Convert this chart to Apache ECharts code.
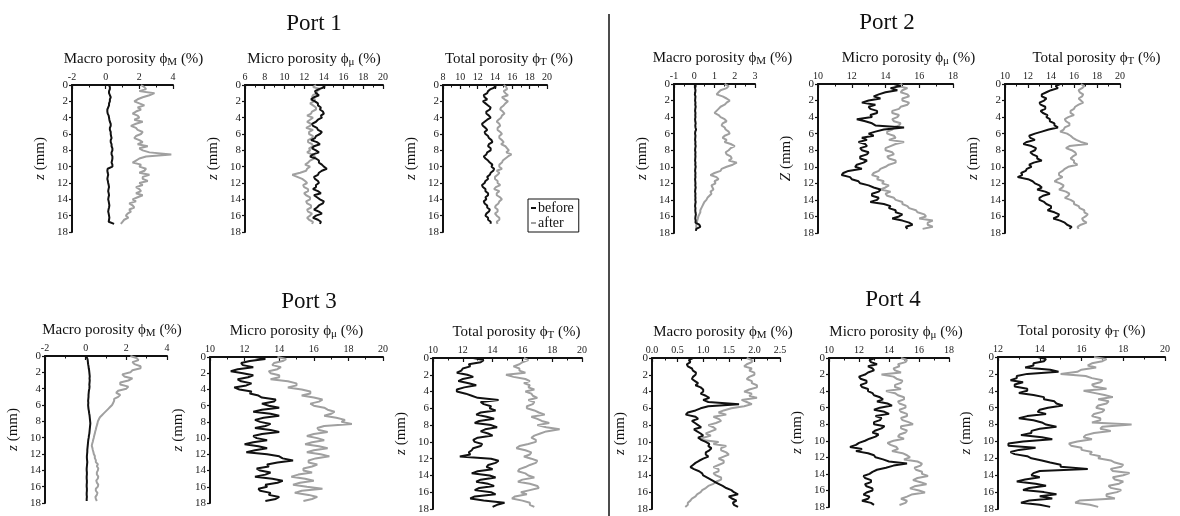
<!DOCTYPE html>
<html><head><meta charset="utf-8">
<script src="https://cdn.jsdelivr.net/npm/echarts@6/dist/echarts.min.js"></script>
<style>html,body{margin:0;padding:0;background:#fff}#c{width:1180px;height:516px}</style>
</head><body><div id="c"></div>
<script>
// depth (mm), 0.25 mm steps
const depth = [0,0.25,0.5,0.75,1,1.25,1.5,1.75,2,2.25,2.5,2.75,3,3.25,3.5,3.75,4,4.25,4.5,4.75,5,5.25,5.5,5.75,6,6.25,6.5,6.75,7,7.25,7.5,7.75,8,8.25,8.5,8.75,9,9.25,9.5,9.75,10,10.25,10.5,10.75,11,11.25,11.5,11.75,12,12.25,12.5,12.75,13,13.25,13.5,13.75,14,14.25,14.5,14.75,15,15.25,15.5,15.75,16,16.25,16.5,16.75,17,17.25,17.5,17.75];
const seriesNames = ['before','after'];
const portTitles = ['Port 1','Port 2','Port 3','Port 4'];

// Port 1
const p1MacroBefore = [0.2,0.25,0.25,0.2, 0.2,0.25,0.3,0.25, 0.25,0.2,0.2,0.15, 0.1,0.1,0.12,0.18, 0.2,0.22,0.25,0.3, 0.3,0.25,0.25,0.3, 0.3,0.32,0.35,0.3, 0.3,0.35,0.35,0.4, 0.4,0.35,0.35,0.4, 0.4,0.38,0.35,0.4, 0.4,0.12,0.1,0.12, 0.15,0.12,0.1,0.13, 0.15,0.18,0.2,0.17, 0.15,0.18,0.2,0.17, 0.15,0.18,0.2,0.22, 0.2,0.17,0.15,0.18, 0.2,0.22,0.2,0.18, 0.5];
const p1MacroAfter = [2.1,2.3,2.4,2.0, 2.9,2.6,2.2,1.9, 1.7,2.0,2.3,1.9, 2.1,1.8,1.6,1.9, 2.0,1.7,2.2,1.8, 1.5,1.8,1.9,2.2, 2.1,1.8,1.7,2.0, 2.2,1.9,2.5,2.0, 2.2,2.6,3.9,2.4, 2.0,1.8,1.6,2.1, 2.0,2.4,2.3,2.0, 2.6,2.2,2.2,2.5, 2.0,2.2,1.8,2.0, 2.1,1.8,2.2,1.9, 1.6,1.8,1.4,1.6, 1.7,1.4,1.5,1.3, 1.2,1.35,1.1,1.0, 0.9];
const p1MicroBefore = [13.8,14.1,13.5,13.1, 13.2,13.5,13.0,12.7, 13.1,13.4,13.4,13.7, 13.6,13.9,14.0,13.7, 13.8,13.4,13.2,12.8, 12.9,13.3,13.4,13.8, 13.6,13.2,13.1,12.7, 13.3,13.6,13.0,12.8, 13.2,13.5,12.9,12.6, 13.2,13.5,13.5,13.8, 14.0,14.3,13.8,13.5, 13.4,13.0,13.1,13.4, 13.5,13.2,13.2,12.9, 13.4,13.7,13.0,13.3, 13.6,14.0,13.9,13.5, 13.3,13.0,13.5,13.8, 13.2,12.9,13.4,13.7, 13.6];
const p1MicroAfter = [13.2,12.9,13.6,13.3, 13.3,12.9,12.8,13.1, 13.0,12.6,12.9,13.2, 13.2,12.8,12.7,12.3, 12.9,12.6,12.3,12.7, 12.6,12.2,12.9,12.5, 12.5,12.9,12.8,12.4, 12.4,12.8,12.9,12.5, 12.6,12.3,12.8,13.1, 13.0,12.6,12.4,12.1, 12.6,12.3,12.2,11.6, 10.8,11.3,11.8,12.1, 12.3,11.9,12.0,12.4, 12.4,12.0,12.2,12.6, 12.6,12.2,12.3,12.7, 12.7,12.3,12.4,12.8, 12.6,12.3,12.5,12.9, 12.8];
const p1TotalBefore = [13.8,14.1,13.5,13.2, 13.1,12.7,12.8,13.1, 12.6,12.9,13.2,13.5, 13.4,13.0,13.0,13.3, 13.5,13.1,12.8,12.5, 12.6,12.9,13.1,12.8, 12.9,13.2,13.3,13.6, 13.7,13.3,13.2,13.5, 13.5,13.1,13.0,12.7, 12.9,13.2,13.4,13.7, 13.6,13.9,13.8,13.5, 13.4,13.1,13.2,12.9, 12.8,12.5,12.6,12.9, 12.9,13.2,13.2,12.9, 13.0,12.7,12.8,13.1, 13.1,13.4,13.3,13.0, 12.9,13.2,13.2,13.5, 13.5];
const p1TotalAfter = [15.0,15.3,15.4,15.0, 15.2,15.5,14.8,15.1, 15.5,15.2,15.0,14.7, 14.6,14.9,15.1,14.8, 14.7,14.4,14.2,14.5, 14.6,14.3,14.3,14.6, 14.8,14.5,14.5,14.8, 15.0,14.7,15.2,15.4, 15.6,15.3,15.9,15.5, 15.2,14.9,14.8,14.5, 14.5,14.8,14.2,14.5, 14.3,14.0,14.0,14.3, 14.3,14.6,14.1,13.9, 14.5,14.2,14.2,14.6, 14.8,14.5,14.4,14.1, 14.0,14.3,14.3,14.0, 14.2,14.5,14.5,14.2, 14.3];
// Port 2
const p2MacroBefore = [0.05,0.07,0.04,0.06, 0.05,0.03,0.06,0.05, 0.04,0.06,0.05,0.07, 0.05,0.04,0.06,0.05, 0.06,0.04,0.05,0.07, 0.05,0.06,0.09,0.05, 0.04,0.06,0.05,0.04, 0.06,0.05,0.07,0.05, 0.04,0.06,0.05,0.06, 0.05,0.04,0.06,0.05, 0.07,0.05,0.04,0.06, 0.05,0.06,0.04,0.05, 0.06,0.05,0.07,0.05, 0.04,0.06,0.05,0.06, 0.05,0.07,0.05,0.04, 0.06,0.05,0.06,0.08, 0.06,0.05,0.07,0.06, 0.25,0.3,0.1,0.08];
const p2MacroAfter = [1.5,1.7,1.6,1.3, 1.2,1.1,1.4,1.6, 1.75,1.6,1.5,1.3, 1.2,1.1,1.0,1.2, 1.3,1.5,1.6,1.4, 1.35,1.5,1.55,1.7, 1.75,1.5,1.4,1.6, 1.5,1.8,2.0,1.8, 1.7,1.55,1.6,1.8, 1.85,1.7,2.1,1.9, 1.6,1.35,1.3,1.0, 0.8,1.1,1.2,1.0, 1.05,0.85,0.9,0.95, 0.8,0.85,0.75,0.65, 0.6,0.5,0.45,0.4, 0.35,0.3,0.3,0.25, 0.2,0.18,0.15,0.12, 0.1,0.1,0.1];
const p2MicroBefore = [14.5,14.9,14.3,14.7, 14.0,13.6,13.3,13.7, 13.0,12.6,13.4,13.0, 13.1,13.5,13.5,13.1, 13.2,12.3,12.8,13.2, 13.4,15.1,13.9,13.4, 13.0,13.3,12.6,12.9, 12.4,12.8,12.9,12.5, 12.6,13.0,12.9,12.5, 12.5,12.9,12.7,12.3, 12.2,12.6,11.8,11.5, 11.4,11.9,12.0,12.4, 12.5,13.0,13.3,13.7, 13.6,13.2,13.2,13.6, 13.5,13.1,13.9,14.3, 14.2,14.6,14.6,15.0, 14.8,14.4,15.0,15.4, 15.6,15.2,15.3];
const p2MicroAfter = [15.0,14.7,15.3,15.0, 14.9,15.3,15.4,15.0, 15.0,15.4,15.3,14.9, 14.8,14.4,14.4,14.8, 14.7,14.4,14.5,14.9, 14.8,14.5,14.4,14.1, 14.1,14.5,14.6,14.2, 15.1,14.6,14.3,14.0, 14.0,14.4,14.5,14.1, 14.2,14.6,14.6,14.2, 14.0,13.7,13.6,13.3, 13.2,13.6,13.5,13.9, 13.8,14.2,14.0,13.7, 14.3,14.0,14.1,14.5, 14.6,15.0,15.0,15.3, 15.4,15.8,15.9,16.3, 16.4,16.0,16.8,16.5, 16.5,16.8,16.2];
const p2TotalBefore = [14.8,14.4,14.6,14.0, 13.6,13.2,13.2,13.6, 13.4,13.0,13.1,13.5, 13.5,13.1,13.3,13.7, 13.6,13.9,13.9,14.3, 14.3,14.6,13.8,13.2, 12.6,12.1,12.2,12.6, 11.9,11.6,12.3,12.7, 12.6,12.2,12.4,12.8, 12.8,13.2,12.5,12.1, 12.3,11.9,11.8,11.4, 11.5,11.1,12.0,12.4, 12.6,13.0,13.2,12.8, 13.5,13.9,13.3,13.0, 13.0,13.4,13.6,14.0, 14.0,13.7,14.3,14.7, 14.6,14.2,14.8,15.2, 15.4,15.8,15.6];
const p2TotalAfter = [16.6,16.9,16.7,16.4, 16.5,16.8,16.7,16.4, 16.6,16.8,16.4,16.1, 16.0,15.7,15.7,16.0, 15.5,15.2,15.3,15.6, 15.6,15.2,15.1,14.8, 15.4,15.7,15.9,16.2, 16.6,17.2,15.6,15.3, 15.8,16.1,16.2,15.9, 15.7,16.0,16.0,16.3, 15.5,15.2,15.0,14.7, 14.7,15.0,14.6,14.3, 14.8,15.1,15.0,14.7, 15.3,15.6,15.5,15.2, 15.7,16.0,16.0,16.4, 16.5,16.9,16.9,17.2, 17.0,16.7,16.8,17.1, 16.6,16.3,16.4];
// Port 3
const p3MacroBefore = [0.05,0.07,0.1,0.11, 0.12,0.14,0.15,0.17, 0.18,0.19,0.2,0.19, 0.2,0.19,0.18,0.19, 0.18,0.16,0.15,0.14, 0.14,0.13,0.12,0.13, 0.12,0.13,0.14,0.16, 0.17,0.19,0.2,0.21, 0.22,0.23,0.22,0.21, 0.2,0.19,0.18,0.16, 0.15,0.13,0.12,0.11, 0.1,0.09,0.08,0.08, 0.07,0.06,0.06,0.07, 0.08,0.07,0.06,0.05, 0.05,0.06,0.06,0.05, 0.05,0.06,0.06,0.05, 0.05,0.06,0.06,0.05, 0.05,0.06,0.05,0.05];
const p3MacroAfter = [2.2,2.5,2.6,2.3, 2.4,2.7,2.7,2.3, 2.2,1.8,1.9,2.3, 2.1,1.7,1.7,2.1, 2.0,1.6,1.5,1.7, 1.6,1.4,1.4,1.35, 1.3,1.2,1.1,1.0, 0.9,0.8,0.7,0.65, 0.6,0.58,0.55,0.52, 0.5,0.47,0.45,0.42, 0.4,0.37,0.35,0.32, 0.3,0.33,0.35,0.38, 0.4,0.45,0.45,0.5, 0.5,0.6,0.55,0.62, 0.6,0.55,0.55,0.62, 0.6,0.52,0.55,0.62, 0.6,0.5,0.5,0.58, 0.55,0.48,0.5,0.55];
const p3MicroBefore = [12.6,13.2,12.3,11.8, 11.9,12.5,11.6,11.2, 11.9,12.5,12.2,11.6, 11.8,12.4,12.1,11.4, 11.7,12.4,12.3,12.8, 13.0,13.8,13.7,13.0, 13.4,14.0,13.0,12.5, 13.5,14.0,13.1,12.6, 12.9,13.5,13.2,12.6, 13.5,14.0,13.0,12.5, 12.7,13.3,12.5,12.0, 12.8,13.3,12.6,12.1, 13.3,14.0,14.2,14.8, 13.9,13.3,13.4,12.7, 12.9,13.5,13.2,12.6, 13.6,14.2,13.9,13.2, 13.3,12.8,12.9,13.5, 13.4,14.0,13.8,13.2];
const p3MicroAfter = [13.9,14.4,14.2,13.7, 13.6,14.1,13.9,13.4, 13.5,14.0,14.0,13.5, 14.5,15.0,15.0,14.5, 15.3,15.8,15.8,15.3, 16.0,16.5,16.3,15.8, 16.0,16.6,16.8,17.2, 17.0,16.6,17.3,17.8, 17.6,18.2,16.6,16.2, 16.3,16.8,16.0,15.6, 16.2,16.6,15.9,15.5, 16.3,16.8,16.0,15.6, 16.4,16.9,16.1,15.7, 15.7,16.2,15.9,15.4, 15.4,15.9,15.1,14.7, 15.5,16.0,15.2,14.8, 15.6,16.5,15.3,14.9, 15.7,16.2,15.9,15.4];
const p3TotalBefore = [12.7,13.4,13.2,12.4, 12.5,12.0,11.9,11.6, 12.3,12.7,12.0,11.7, 12.4,12.9,12.1,11.6, 11.6,12.2,12.6,13.0, 14.4,13.2,13.4,13.9, 13.8,14.2,13.2,12.9, 13.6,14.1,13.1,12.8, 13.9,14.3,13.5,13.2, 13.7,14.0,13.0,12.7, 12.8,13.3,13.2,12.7, 12.6,12.4,12.5,11.8, 13.9,14.4,14.2,13.7, 13.6,14.0,13.0,12.6, 13.8,14.2,13.2,12.9, 13.7,14.1,13.1,12.8, 13.9,14.2,12.8,12.5, 13.4,14.8,14.3,14.0];
const p3TotalAfter = [16.1,16.4,16.0,15.8, 15.4,15.8,15.8,16.2, 14.9,15.4,16.2,16.5, 16.1,16.5,16.4,16.8, 16.2,16.6,16.7,17.0, 16.4,16.8,16.7,16.3, 16.3,16.8,17.1,17.5, 16.6,17.0,17.3,17.8, 17.0,17.6,18.5,17.6, 17.2,16.8,16.6,16.9, 16.9,16.4,15.8,15.6, 16.2,16.6,16.5,16.1, 16.6,17.0,16.9,16.5, 16.2,15.8,15.7,16.2, 16.4,16.8,16.0,15.7, 16.5,17.0,17.1,16.5, 15.9,16.3,15.5,15.3, 16.0,16.5,16.5,16.8];
// Port 4
const p4MacroBefore = [0.8,0.72,0.75,0.68, 0.7,0.78,0.8,0.86, 0.85,0.8,0.78,0.84, 0.9,0.85,0.95,1.0, 1.0,0.95,1.05,1.12, 1.0,1.1,1.7,1.1, 0.95,0.85,0.7,0.66, 0.85,0.9,0.78,0.84, 0.9,0.96,0.82,0.88, 0.95,1.0,0.9,0.96, 1.05,1.12,1.1,1.16, 1.12,1.05,1.05,1.1, 1.0,0.92,0.85,0.8, 0.75,0.82,0.92,0.98, 1.0,1.08,1.15,1.22, 1.3,1.38,1.45,1.55, 1.6,1.68,1.5,1.56, 1.65,1.58,1.6,1.68];
const p4MacroAfter = [1.85,1.95,1.95,1.85, 1.8,1.95,1.9,2.0, 2.0,1.9,1.85,1.95, 1.95,2.05,2.05,1.9, 1.8,1.95,1.9,2.05, 1.75,1.85,1.95,1.8, 1.55,1.4,1.3,1.45, 1.2,1.3,1.35,1.25, 1.1,1.2,1.25,1.15, 1.05,1.15,1.0,0.95, 1.3,1.2,1.45,1.35, 1.35,1.45,1.5,1.4, 1.3,1.4,1.4,1.3, 1.2,1.3,1.3,1.2, 1.25,1.35,1.35,1.25, 1.2,1.1,1.05,0.98, 0.95,0.88,0.85,0.78, 0.75,0.7,0.7,0.65];
const p4MicroBefore = [13.1,12.7,12.8,13.2, 12.6,12.9,13.0,12.6, 12.4,12.0,12.1,12.5, 12.5,12.1,12.2,12.6, 12.6,12.9,13.0,13.4, 13.6,13.2,13.9,14.2, 13.4,13.0,13.7,14.0, 13.1,13.5,13.4,13.0, 13.0,13.7,13.5,13.1, 12.9,13.3,13.1,12.7, 12.4,12.0,11.8,11.4, 12.2,11.8,12.6,13.0, 13.1,13.6,14.0,15.2, 14.3,13.8,13.2,12.9, 12.7,12.3,12.4,12.8, 12.8,12.4,12.5,12.9, 12.9,12.5,12.3,12.7, 12.6,12.2,12.8,13.0];
const p4MicroAfter = [14.8,15.2,15.1,14.6, 14.7,14.3,14.4,14.8, 13.5,14.3,14.5,14.9, 14.8,14.4,14.4,14.8, 13.8,14.4,14.6,15.0, 15.0,14.6,14.7,15.1, 15.1,14.7,14.8,15.2, 15.2,14.8,14.9,15.3, 15.6,14.8,14.8,15.2, 15.1,14.7,14.6,15.0, 14.3,13.9,14.1,14.5, 14.6,14.2,14.9,15.2, 15.4,15.0,15.9,16.2, 16.1,15.7,15.8,16.2, 16.2,16.6,15.9,15.6, 16.1,16.5,15.7,15.4, 16.0,16.4,15.5,15.2, 14.8,15.2,15.1,14.7];
const p4TotalBefore = [13.9,14.3,14.2,13.7, 13.7,13.3,14.5,14.9, 13.4,12.9,12.9,12.6, 13.2,12.8,12.8,13.4, 13.4,13.0,13.7,14.2, 14.2,14.7,14.8,15.1, 14.4,14.0,13.9,14.3, 13.4,13.0,13.7,14.1, 14.3,14.8,14.0,13.6, 13.6,13.1,14.1,14.6, 13.2,12.5,12.5,13.8, 13.0,12.6,12.8,13.4, 13.6,14.1,14.5,15.0, 15.0,16.3,14.0,13.7, 13.6,14.0,13.3,12.9, 13.8,14.3,13.5,13.2, 14.2,14.8,14.0,14.6, 13.5,13.1,14.0,14.5];
const p4TotalAfter = [16.6,17.2,17.0,16.5, 16.3,16.7,16.0,15.8, 15.0,16.2,16.5,17.0, 16.9,16.5,16.6,17.2, 16.1,16.6,17.1,17.5, 16.8,17.3,17.2,16.8, 16.7,17.1,17.0,16.6, 16.5,16.9,16.9,16.5, 18.4,17.0,16.9,17.4, 16.6,16.2,16.1,16.5, 15.8,15.4,15.5,16.0, 16.0,16.5,16.4,16.9, 16.8,17.4,17.6,18.0, 17.9,17.4,17.5,18.3, 18.0,17.5,17.6,18.0, 17.8,17.3,17.4,17.9, 17.7,17.2,17.2,17.6, 15.9,15.7,16.4,16.8];

// axis ranges: [min, max, interval]
const xRanges = [[-2,4,2],[6,20,2],[8,20,2],[-1,3,1],[10,18,2],[10,20,2],[-2,4,2],[10,20,2],[10,20,2],[0,2.5,0.5],[10,18,2],[12,20,2]];
const panelKinds = ['M','μ','T','M','μ','T','M','μ','T','M','μ','T'];
const panelLabels = {M:'Macro porosity ϕ', 'μ':'Micro porosity ϕ', T:'Total porosity ϕ'};
const zNames = ['z','z','z','z','Z','z','z','z','z','z','z','z'];
const panelData = [
  [p1MacroBefore,p1MacroAfter],[p1MicroBefore,p1MicroAfter],[p1TotalBefore,p1TotalAfter],
  [p2MacroBefore,p2MacroAfter],[p2MicroBefore,p2MicroAfter],[p2TotalBefore,p2TotalAfter],
  [p3MacroBefore,p3MacroAfter],[p3MicroBefore,p3MicroAfter],[p3TotalBefore,p3TotalAfter],
  [p4MacroBefore,p4MacroAfter],[p4MicroBefore,p4MicroAfter],[p4TotalBefore,p4TotalAfter]
];

// layout (pixels): left, top, width, height, title shift
const layout = [
  [72,85,101,147,11],[245,85,138,147,0],[443,85,104,147,14],
  [674,84,81,149,8],[818,84,135,149,23],[1005,84,115,149,34],
  [45,356,122,147,6],[210,357,173,146,0],[433,358,149,151,9],
  [652,358,128,151,7],[829,358,120,149,7],[998,357,167,152,0]
];
const FONT = '"Liberation Serif","DejaVu Serif",serif';
const INK = '#111';
const colors = {before:'#111111', after:'#a0a0a0'};

const grid=[], xAxis=[], yAxis=[], series=[];
layout.forEach((L,i)=>{
  grid.push({left:L[0], top:L[1], width:L[2], height:L[3], containLabel:false});
  const r = xRanges[i];
  xAxis.push({
    gridIndex:i, type:'value', position:'top', min:r[0], max:r[1], interval:r[2],
    axisLine:{show:true, onZero:false, lineStyle:{color:INK, width:2}},
    axisTick:{show:true, inside:true, length:4, lineStyle:{color:INK, width:1.2}},
    minorTick:{show:true, splitNumber:2, length:2.5, lineStyle:{color:INK, width:1}},
    axisLabel:{fontFamily:FONT, fontSize:10, color:'#222', margin:3,
      formatter: v => r[2] < 1 ? v.toFixed(1) : String(v)},
    splitLine:{show:false},
    name:'{t|'+panelLabels[panelKinds[i]]+'}{s|'+panelKinds[i]+'}{t| (%)}',
    nameLocation:'middle', nameGap:17,
    nameTextStyle:{padding:[0,0,0,2*L[4]], rich:{
      t:{fontFamily:FONT, fontSize:15, color:INK},
      s:{fontFamily:FONT, fontSize:11, color:INK, padding:[6,0,0,0]}
    }}
  });
  yAxis.push({
    gridIndex:i, type:'value', inverse:true, min:0, max:18, interval:2,
    axisLine:{show:true, onZero:false, lineStyle:{color:INK, width:2}},
    axisTick:{show:true, inside:false, length:3, lineStyle:{color:INK, width:1.2}},
    axisLabel:{fontFamily:FONT, fontSize:11, color:'#222', margin:4},
    splitLine:{show:false},
    name:'{i|'+zNames[i]+'}{t| (mm)}', nameLocation:'middle', nameGap:24, nameRotate:90,
    nameTextStyle:{rich:{
      i:{fontFamily:FONT, fontSize:15, fontStyle:'italic', color:INK},
      t:{fontFamily:FONT, fontSize:15, color:INK}
    }}
  });
  const pair = panelData[i];
  [1,0].forEach(k=>{
    series.push({
      name: seriesNames[k], type:'line', xAxisIndex:i, yAxisIndex:i,
      symbol:'none', showSymbol:false, animation:false,
      lineStyle:{width:2, color:colors[seriesNames[k]]},
      itemStyle:{color:colors[seriesNames[k]]},
      data: pair[k].map((v,j)=>[v, depth[j]])
    });
  });
});

const chart = echarts.init(document.getElementById('c'), null, {renderer:'canvas'});
chart.setOption({
  animation:false,
  backgroundColor:'#fff',
  grid, xAxis, yAxis, series,
  legend:{
    data:seriesNames, left:528, top:199, orient:'vertical', selectedMode:false,
    icon:'rect', itemWidth:5, itemHeight:2, itemGap:1,
    borderColor:INK, borderWidth:1, padding:[2,5,2,3], backgroundColor:'#fff',
    textStyle:{fontFamily:FONT, fontSize:14, color:INK, padding:[0,0,0,-3]}
  },
  graphic:[
    {type:'line', shape:{x1:609, y1:14, x2:609, y2:516}, style:{stroke:INK, lineWidth:1.5}},
    {type:'text', x:314, y:24, style:{text:portTitles[0], font:'23px '+FONT, fill:INK, textAlign:'center', textVerticalAlign:'middle'}},
    {type:'text', x:887, y:23, style:{text:portTitles[1], font:'23px '+FONT, fill:INK, textAlign:'center', textVerticalAlign:'middle'}},
    {type:'text', x:309, y:302, style:{text:portTitles[2], font:'23px '+FONT, fill:INK, textAlign:'center', textVerticalAlign:'middle'}},
    {type:'text', x:893, y:300, style:{text:portTitles[3], font:'23px '+FONT, fill:INK, textAlign:'center', textVerticalAlign:'middle'}}
  ]
});
</script></body></html>
